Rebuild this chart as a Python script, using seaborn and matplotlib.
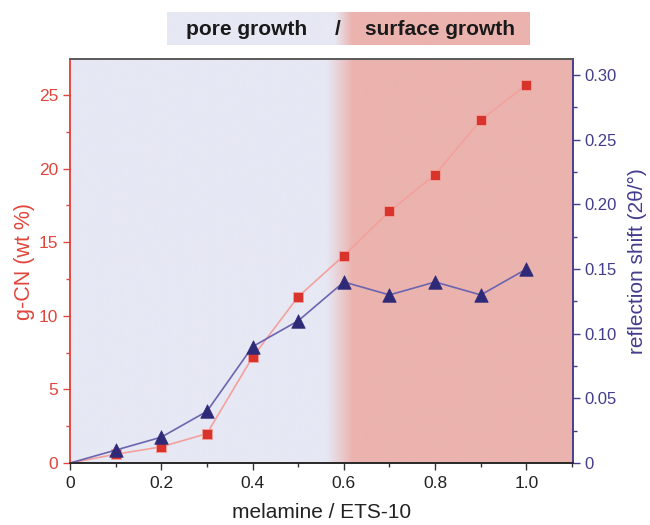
import numpy as np
import pandas as pd
import matplotlib
matplotlib.use("Agg")
import matplotlib.pyplot as plt
from matplotlib.colors import LinearSegmentedColormap
from matplotlib.ticker import MultipleLocator, FuncFormatter
import seaborn as sns

# ---- data ----
ratio = [0.0, 0.1, 0.2, 0.3, 0.4, 0.5, 0.6, 0.7, 0.8, 0.9, 1.0]
gcn_wt = [0.0, 0.6, 1.1, 2.0, 7.2, 11.3, 14.1, 17.1, 19.6, 23.3, 25.7]
shift = [0.0, 0.01, 0.02, 0.04, 0.09, 0.11, 0.14, 0.13, 0.14, 0.13, 0.15]
x_ticks = [0, 0.2, 0.4, 0.6, 0.8, 1.0]
x_tick_labels = ["0", "0.2", "0.4", "0.6", "0.8", "1.0"]
regime_labels = ["pore growth", "/", "surface growth"]

df = pd.DataFrame({"ratio": ratio, "gcn": gcn_wt, "shift": shift})
df_pts = df[df["ratio"] > 0]

sns.set_theme(style="white")
plt.rcParams["font.family"] = ["Liberation Sans", "DejaVu Sans"]

RED = "#d8342c"
RED_LINE = "#f4a09c"
BLUE = "#2f2a78"
BLUE_LINE = "#6b64b0"
RED_AX = "#e0463c"
BLUE_AX = "#433b8c"
LAV = "#e6e8f4"
SAL = "#ebb3ae"

fig = plt.figure(figsize=(6.5, 5.25), dpi=100)
ax = fig.add_axes([0.1077, 0.118, 0.7738, 0.7696])
xmax, ymax, y2max = 1.102, 27.45, 0.3124

# background gradient
cmap = LinearSegmentedColormap.from_list("bg", [LAV, SAL])
xs = np.linspace(0, xmax, 800)
grad = np.clip((xs - 0.563) / (0.62 - 0.563), 0, 1)[None, :]
ax.imshow(grad, extent=[0, xmax, 0, ymax], aspect="auto", cmap=cmap,
          vmin=0, vmax=1, zorder=0, origin="lower")

ax2 = ax.twinx()

sns.lineplot(data=df, x="ratio", y="gcn", ax=ax, color=RED_LINE, lw=1.2,
             zorder=2, legend=False)
sns.scatterplot(data=df_pts, x="ratio", y="gcn", ax=ax, marker="s", s=55,
                color=RED, edgecolor=RED_LINE, linewidth=0.6, zorder=3, legend=False)
sns.lineplot(data=df, x="ratio", y="shift", ax=ax2, color=BLUE_LINE, lw=1.2,
             zorder=2, legend=False)
sns.scatterplot(data=df_pts, x="ratio", y="shift", ax=ax2, marker="^", s=95,
                color=BLUE, edgecolor=BLUE, linewidth=0.5, zorder=3, legend=False)

ax.set_xlim(0, xmax)
ax.set_ylim(0, ymax)
ax2.set_ylim(0, y2max)

ax.set_xticks(x_ticks)
ax.set_xticklabels(x_tick_labels)
ax.xaxis.set_minor_locator(MultipleLocator(0.1))
ax.yaxis.set_major_locator(MultipleLocator(5))
ax.yaxis.set_minor_locator(MultipleLocator(2.5))
ax2.yaxis.set_major_locator(MultipleLocator(0.05))
ax2.yaxis.set_minor_locator(MultipleLocator(0.025))
ax2.yaxis.set_major_formatter(FuncFormatter(lambda v, p: "0" if abs(v) < 1e-9 else f"{v:.2f}"))

ax.set_xlabel("melamine / ETS-10", fontsize=15, color="#222222", labelpad=9)
ax.set_ylabel("g-CN (wt %)", fontsize=15.5, color=RED_AX, labelpad=3)
ax2.set_ylabel("reflection shift (2θ/°)", fontsize=15, color=BLUE_AX, labelpad=8)

for a in (ax, ax2):
    a.tick_params(which="both", direction="out")
ax.tick_params(axis="x", which="major", length=5, width=1, color="#333333",
               labelsize=12.5, labelcolor="#222222", bottom=True, pad=4)
ax.tick_params(axis="x", which="minor", length=3, width=1, color="#333333", bottom=True)
ax.tick_params(axis="y", which="major", length=5, width=1, color=RED_AX,
               labelsize=12.5, labelcolor=RED_AX, left=True)
ax.tick_params(axis="y", which="minor", length=3, width=1, color=RED_AX, left=True)
ax2.tick_params(axis="y", which="major", length=5, width=1, color=BLUE_AX,
                labelsize=12, labelcolor=BLUE_AX, right=True)
ax2.tick_params(axis="y", which="minor", length=3, width=1, color=BLUE_AX, right=True)

for a in (ax, ax2):
    a.spines["left"].set_color(RED_AX)
    a.spines["right"].set_color(BLUE_AX)
    a.spines["bottom"].set_color("#222222")
    a.spines["top"].set_color("#555555")
    for s in a.spines.values():
        s.set_linewidth(1.1)
        s.set_visible(True)

# regime header box
hax = fig.add_axes([167 / 650, 0.914, 363 / 650, 0.063])
hx = np.linspace(0, 1, 600)
hgrad = np.clip((hx - 0.463) / (0.51 - 0.463), 0, 1)[None, :]
hax.imshow(hgrad, extent=[0, 1, 0, 1], aspect="auto", cmap=cmap, vmin=0, vmax=1)
hax.set_xlim(0, 1)
hax.set_ylim(0, 1)
hax.axis("off")
fig.text(247 / 650, 0.944, regime_labels[0], ha="center", va="center",
         fontsize=15, fontweight="bold", color="#1a1a1a")
fig.text(338 / 650, 0.944, regime_labels[1], ha="center", va="center",
         fontsize=15, fontweight="bold", color="#1a1a1a")
fig.text(440 / 650, 0.944, regime_labels[2], ha="center", va="center",
         fontsize=15, fontweight="bold", color="#1a1a1a")

fig.savefig("out.png", dpi=100)
